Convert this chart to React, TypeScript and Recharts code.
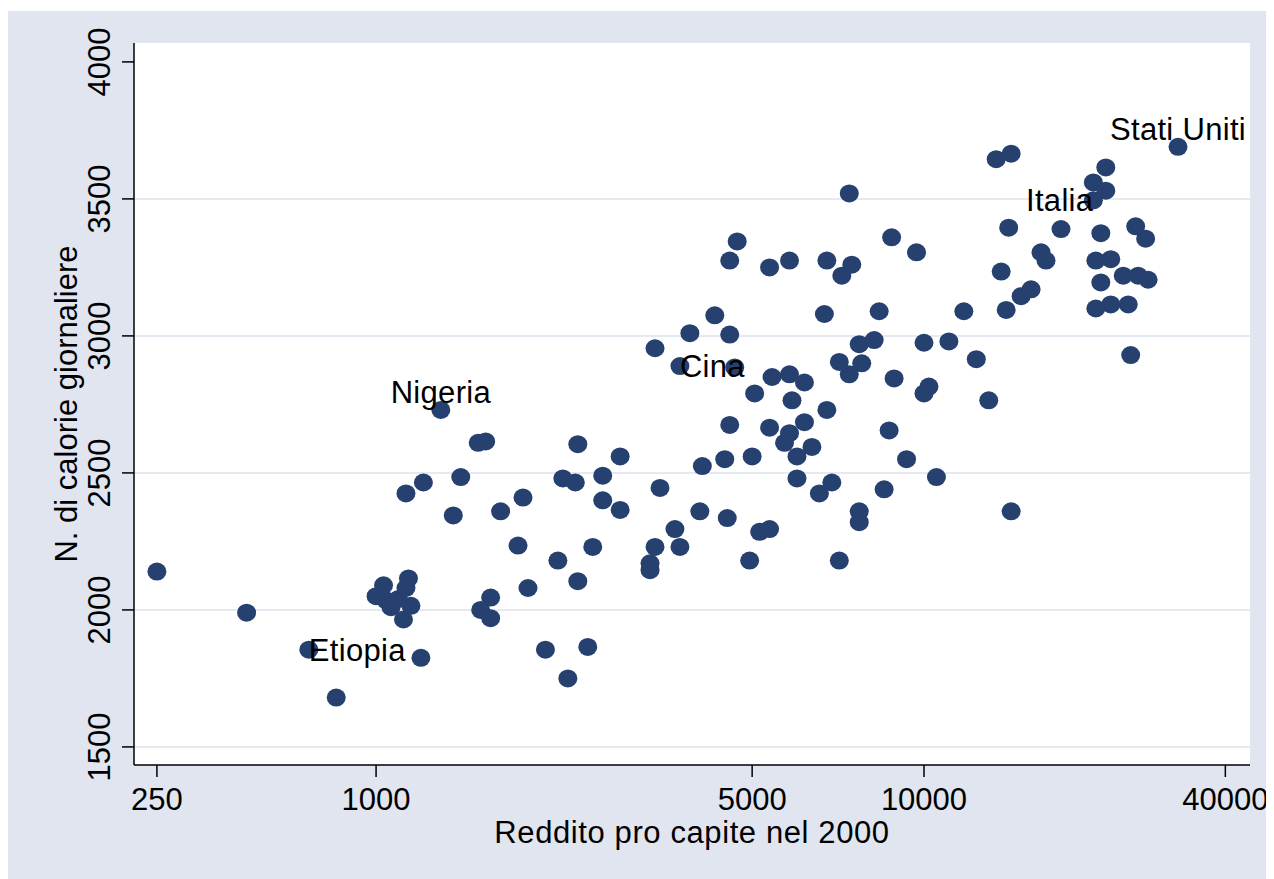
import {
  ScatterChart,
  Scatter,
  XAxis,
  YAxis,
  CartesianGrid,
  ReferenceLine,
} from "recharts";

// log of income per head (x) and daily calories (y), one entry per country
const logIncome = [
  6.12, 6.48, 6.84, 7.18, 7.03, 7.0, 7.04, 7.06, 7.09, 7.13,
  7.12, 7.14, 7.11, 7.31, 7.5, 7.57, 7.73, 7.81, 7.61, 7.46,
  7.42, 7.46, 7.68, 7.85, 7.77, 7.87, 7.41, 7.44, 7.34, 7.19,
  7.12, 7.59, 7.81, 7.98, 7.75, 7.8, 7.91, 7.91, 7.98, 8.14,
  8.12, 8.26, 8.36, 8.42, 8.44, 8.59, 8.66, 8.52, 8.67, 8.42,
  8.58, 8.64, 8.66, 8.31, 8.4, 8.51, 8.69, 8.3, 8.41, 8.2,
  8.54, 8.58, 8.12, 8.22, 8.1, 8.1, 8.5, 8.45, 8.42, 8.58,
  8.66, 8.81, 8.91, 8.87, 9.07, 9.17, 8.9, 8.8, 9.02, 9.36,
  9.51, 9.53, 8.94, 9.0, 9.2, 9.3, 9.41, 8.86, 8.95, 8.9,
  8.72, 9.08, 9.22, 9.2, 9.46, 8.81, 8.72, 9.06, 8.75, 8.69,
  9.13, 9.25, 8.83, 8.78, 9.04, 8.94, 8.94, 8.86, 9.55, 9.49,
  9.55, 9.93, 9.88, 9.93, 9.54, 9.75, 9.91, 10.05, 10.09, 9.67,
  9.69, 9.89, 9.95, 10.0, 10.06, 10.1, 9.91, 9.59, 9.63, 9.89,
  9.95, 10.02, 10.03,
];

const calories = [
  2140, 1990, 1680, 1825, 2090, 2050, 2035, 2010, 2040, 2115,
  2080, 2015, 1965, 2345, 2360, 2235, 2180, 2105, 2080, 2045,
  2000, 1970, 1855, 1865, 1750, 2230, 2610, 2615, 2485, 2465,
  2425, 2410, 2605, 2560, 2480, 2465, 2490, 2400, 2365, 2445,
  2955, 3010, 3075, 3005, 2885, 2850, 2860, 2790, 2765, 2675,
  2665, 2610, 2645, 2525, 2550, 2560, 2480, 2360, 2335, 2295,
  2285, 2295, 2230, 2230, 2170, 2145, 2180, 3345, 3275, 3250,
  3275, 3275, 3260, 3220, 3360, 3305, 3520, 3080, 3090, 3090,
  3235, 3095, 2970, 2985, 2975, 2980, 2915, 2905, 2900, 2860,
  2830, 2845, 2815, 2790, 2765, 2730, 2685, 2655, 2595, 2560,
  2550, 2485, 2465, 2425, 2440, 2360, 2320, 2180, 2360, 3645,
  3665, 3615, 3560, 3530, 3395, 3390, 3375, 3400, 3355, 3305,
  3275, 3275, 3280, 3220, 3220, 3205, 3195, 3145, 3170, 3100,
  3115, 3115, 2930,
];

// countries that get a name next to their marker
const countries = ["Etiopia", "Nigeria", "Cina", "Italia", "Stati Uniti"];
const countryLogIncome = [6.73, 7.26, 8.22, 9.88, 10.22];
const countryCalories = [1855, 2730, 2890, 3495, 3690];

const xTicks = [6.12, 7, 8.51, 9.2, 10.41];
const xTickLabels = ["250", "1000", "5000", "10000", "40000"];
const yTicks = [1500, 2000, 2500, 3000, 3500, 4000];
const yGrid = [1500, 2000, 2500, 3000, 3500];

const X_DOMAIN: [number, number] = [6.028, 10.509];
const Y_DOMAIN: [number, number] = [1434, 4069];

const NAVY = "#26406f";
const BG = "#e0e5ef";
const GRID = "#dce2ec";
const FONT = "'Liberation Sans', Arial, Helvetica, sans-serif";
const FS = 31;

const points = logIncome.map((x, i) => ({ x, y: calories[i] }));
const named = countries.map((name, i) => ({
  name,
  x: countryLogIncome[i],
  y: countryCalories[i],
}));

// where each name sits relative to its marker
const placement: Record<string, "left" | "right" | "top"> = {
  Etiopia: "right",
  Nigeria: "top",
  Cina: "right",
  Italia: "left",
  "Stati Uniti": "top",
};

function Dot({ cx, cy }: any) {
  return <ellipse cx={cx} cy={cy} rx={9.5} ry={9} fill={NAVY} />;
}

function CountryName({ cx, cy, payload }: any) {
  const pos = placement[payload.name];
  const anchor = pos === "left" ? "end" : pos === "right" ? "start" : "middle";
  const y = pos === "top" ? cy - 7 : cy + 11;
  return (
    <text
      x={cx}
      y={y}
      textAnchor={anchor}
      fontFamily={FONT}
      fontSize={FS}
      letterSpacing={0.3}
      fill="#000"
    >
      {payload.name}
    </text>
  );
}

function XTick({ x, y, index }: any) {
  return (
    <text x={x} y={y + 33} textAnchor="middle" fontFamily={FONT} fontSize={FS} fill="#000">
      {xTickLabels[index]}
    </text>
  );
}

function YTick({ x, y, payload }: any) {
  const bx = x - 12;
  return (
    <text
      x={bx}
      y={y}
      transform={`rotate(-90, ${bx}, ${y})`}
      textAnchor="middle"
      fontFamily={FONT}
      fontSize={FS}
      fill="#000"
    >
      {payload.value}
    </text>
  );
}

function XTitle({ viewBox }: any) {
  return (
    <text
      x={viewBox.x + viewBox.width / 2}
      y={viewBox.y + 78}
      textAnchor="middle"
      fontFamily={FONT}
      fontSize={FS}
      letterSpacing={0.6}
      fill="#000"
    >
      Reddito pro capite nel 2000
    </text>
  );
}

function YTitle({ viewBox }: any) {
  const x = viewBox.x + 69;
  const y = viewBox.y + viewBox.height / 2;
  return (
    <text
      x={x}
      y={y}
      transform={`rotate(-90, ${x}, ${y})`}
      textAnchor="middle"
      fontFamily={FONT}
      fontSize={FS}
      fill="#000"
    >
      N. di calorie giornaliere
    </text>
  );
}

const axisLine = { stroke: "#000", strokeWidth: 1.5 };

export default function App() {
  return (
    <div style={{ paddingTop: 3 }}>
      <ScatterChart
        width={1266}
        height={868}
        margin={{ top: 32, right: 24, bottom: 0, left: 0 }}
        style={{ background: BG }}
      >
        <CartesianGrid fill="#fff" horizontal={false} vertical={false} />
        {yGrid.map((v) => (
          <ReferenceLine key={v} y={v} stroke={GRID} strokeWidth={1.5} />
        ))}
        <XAxis
          type="number"
          dataKey="x"
          domain={X_DOMAIN}
          ticks={xTicks}
          interval={0}
          allowDataOverflow
          height={114}
          tickSize={12}
          tickMargin={0}
          axisLine={axisLine}
          tickLine={axisLine}
          tick={<XTick />}
          label={XTitle}
        />
        <YAxis
          type="number"
          dataKey="y"
          domain={Y_DOMAIN}
          ticks={yTicks}
          interval={0}
          allowDataOverflow
          width={126}
          tickSize={12}
          tickMargin={0}
          axisLine={axisLine}
          tickLine={axisLine}
          tick={<YTick />}
          label={YTitle}
        />
        <Scatter data={points} shape={Dot} isAnimationActive={false} />
        <Scatter data={named} shape={Dot} isAnimationActive={false} />
        <Scatter data={named} shape={CountryName} isAnimationActive={false} />
      </ScatterChart>
    </div>
  );
}
